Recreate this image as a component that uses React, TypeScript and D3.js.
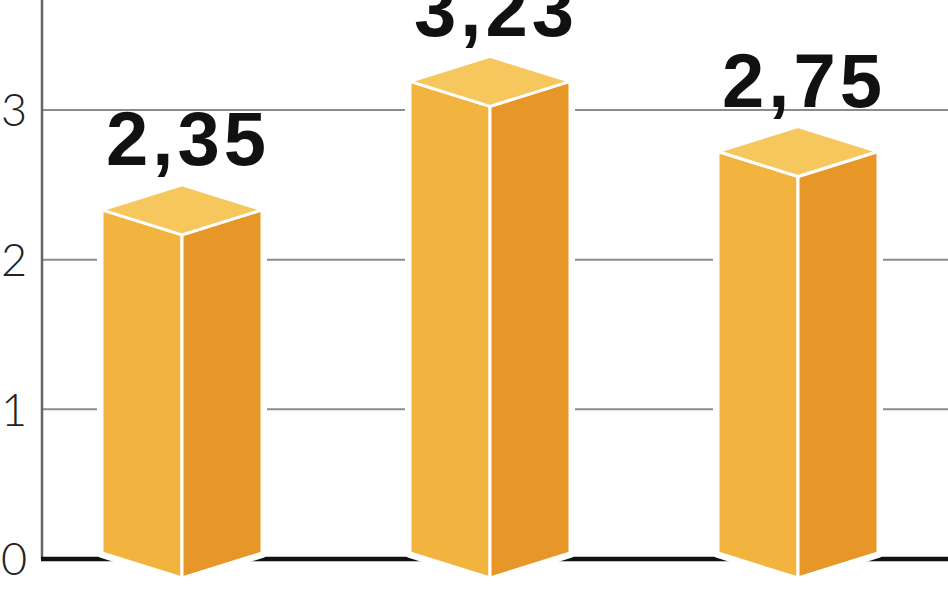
import React from "react";
import * as d3 from "d3";

const categories = ["A", "B", "C"];
const values = [2.35, 3.23, 2.75];
const valueLabels = ["2,35", "3,23", "2,75"];
const yTicks = [0, 1, 2, 3];

const W = 948;
const H = 593;

export default function App() {
  const y = d3.scaleLinear().domain([0, 3]).range([559, 110]);
  const yBar = d3.scaleLinear().domain([0, 3]).range([553, 553 - 438]);
  const x = d3.scalePoint<string>().domain(categories).range([182, 798]);
  const halfW = 80;
  const dy = 25;

  const colLeft = "#f2b43e";
  const colRight = "#e69727";
  const colTop = "#f6c75c";

  return (
    <svg
      width={W}
      height={H}
      style={{ position: "absolute", left: 0, top: 0, background: "#fff" }}
    >
      <rect x={0} y={0} width={W} height={H} fill="#fff" />
      {/* gridlines */}
      {yTicks
        .filter((t) => t > 0)
        .map((t) => (
          <line
            key={t}
            x1={43}
            x2={W}
            y1={y(t)}
            y2={y(t)}
            stroke="#8c8c8c"
            strokeWidth={2}
          />
        ))}
      {/* vertical axis */}
      <line x1={42} x2={42} y1={0} y2={y(0)} stroke="#666" strokeWidth={2.5} />
      {/* baseline */}
      <line x1={41} x2={W} y1={y(0)} y2={y(0)} stroke="#111" strokeWidth={4.5} />
      {/* tick labels */}
      {yTicks.map((t) => (
        <text
          key={t}
          x={27}
          y={y(t)}
          dy="0.36em"
          textAnchor="end"
          fontFamily="Lato, 'Open Sans', sans-serif"
          fontWeight={300}
          fontSize={45}
          fill="#222"
        >
          {t}
        </text>
      ))}
      {/* bars */}
      {categories.map((c, i) => {
        const cx = x(c)!;
        const top = yBar(values[i]);
        const bot = yBar(0);
        const L = cx - halfW;
        const R = cx + halfW;
        const outline = [
          [L, top],
          [cx, top - dy],
          [R, top],
          [R, bot],
          [cx, bot + dy],
          [L, bot],
        ];
        const leftFace = [
          [L, top],
          [cx, top + dy],
          [cx, bot + dy],
          [L, bot],
        ];
        const rightFace = [
          [cx, top + dy],
          [R, top],
          [R, bot],
          [cx, bot + dy],
        ];
        const topFace = [
          [L, top],
          [cx, top - dy],
          [R, top],
          [cx, top + dy],
        ];
        const line = d3.line();
        const p = (pts: number[][]) => line(pts as [number, number][]) + "Z";
        return (
          <g key={c}>
            <path
              d={p(outline)}
              fill="#fff"
              stroke="#fff"
              strokeWidth={10}
              strokeLinejoin="round"
            />
            <path d={p(leftFace)} fill={colLeft} stroke="#fff" strokeWidth={3} strokeLinejoin="round" />
            <path d={p(rightFace)} fill={colRight} stroke="#fff" strokeWidth={3} strokeLinejoin="round" />
            <path d={p(topFace)} fill={colTop} stroke="#fff" strokeWidth={3} strokeLinejoin="round" />
            <text
              x={cx + 6}
              y={top - 45}
              textAnchor="middle"
              fontFamily="'Liberation Sans', Arial, sans-serif"
              fontWeight={700}
              fontSize={76}
              letterSpacing={4}
              fill="#111"
            >
              {valueLabels[i]}
            </text>
          </g>
        );
      })}
    </svg>
  );
}
